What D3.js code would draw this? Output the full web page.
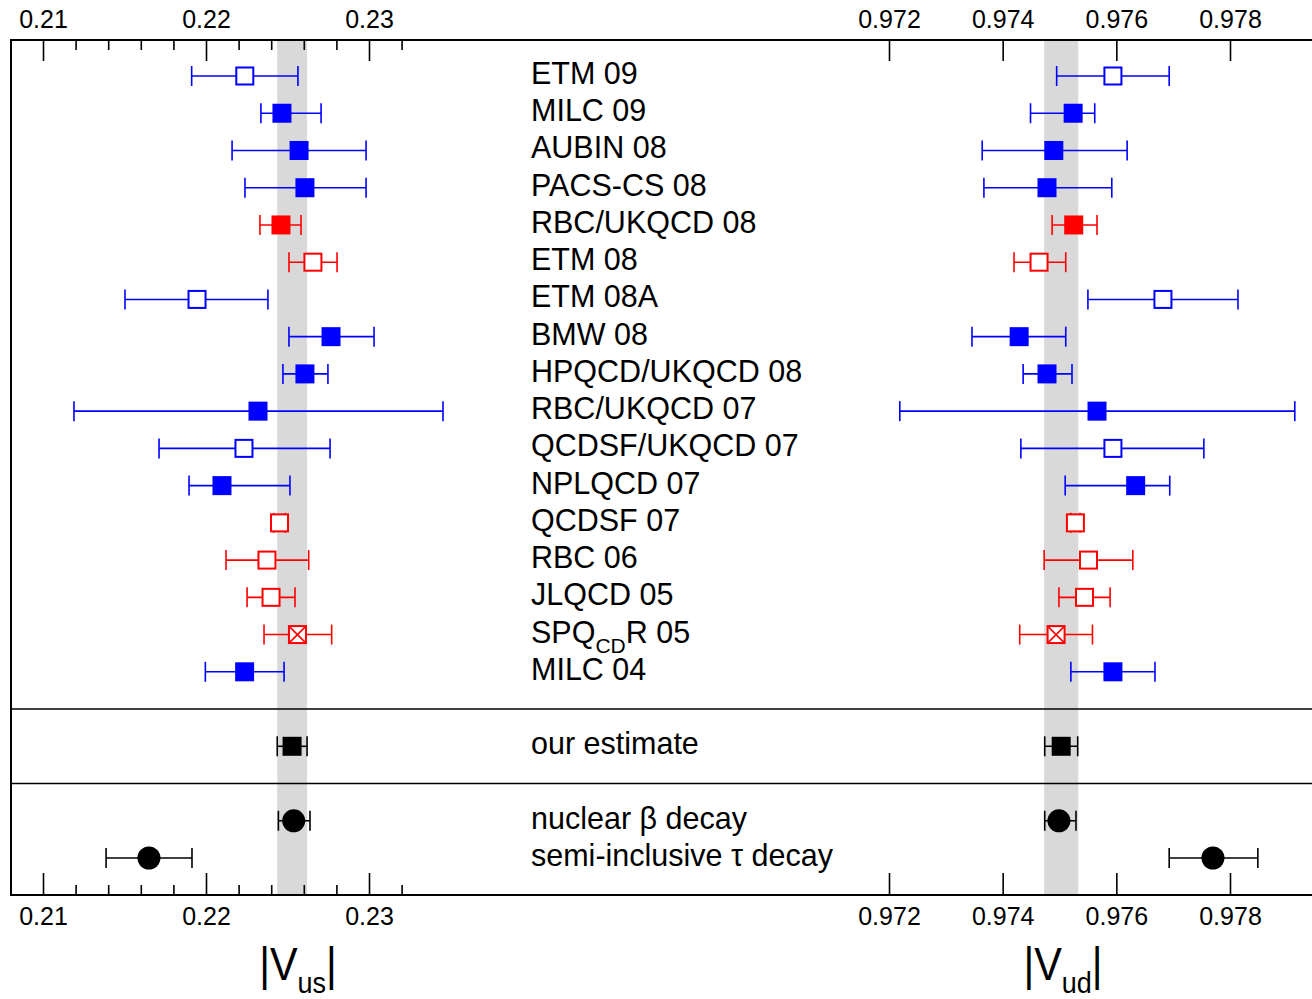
<!DOCTYPE html>
<html>
<head>
<meta charset="utf-8">
<script src="https://cdn.jsdelivr.net/npm/d3@7"></script>
<style>
  html, body { margin: 0; padding: 0; background: #fff; }
  svg { display: block; font-family: "Liberation Sans", Arial, Helvetica, sans-serif; }
</style>
</head>
<body>
<svg id="chart" width="1312" height="999"></svg>
<script>
// lattice results, top to bottom
const latticeLabels = ['ETM 09', 'MILC 09', 'AUBIN 08', 'PACS-CS 08', 'RBC/UKQCD 08', 'ETM 08', 'ETM 08A',
  'BMW 08', 'HPQCD/UKQCD 08', 'RBC/UKQCD 07', 'QCDSF/UKQCD 07', 'NPLQCD 07', 'QCDSF 07', 'RBC 06',
  'JLQCD 05', 'SPQcdR 05', 'MILC 04'];
// which lattice quantity the result comes from
const quantity = ['fK/fpi', 'fK/fpi', 'fK/fpi', 'fK/fpi', 'f+(0)', 'f+(0)', 'fK/fpi', 'fK/fpi', 'fK/fpi',
  'fK/fpi', 'fK/fpi', 'fK/fpi', 'f+(0)', 'f+(0)', 'f+(0)', 'f+(0)', 'fK/fpi'];
const status = ['open', 'filled', 'filled', 'filled', 'filled', 'open', 'open', 'filled', 'filled',
  'filled', 'open', 'filled', 'open', 'open', 'open', 'quenched', 'filled'];

const vusCentral = [0.22238, 0.22466, 0.22571, 0.22607, 0.22460, 0.22656, 0.21945, 0.22767, 0.22607,
  0.22319, 0.22233, 0.22098, 0.22451, 0.22374, 0.22399, 0.22561, 0.22237];
const vusLow = [0.21912, 0.22337, 0.22160, 0.22239, 0.22331, 0.22509, 0.21503, 0.22509, 0.22472,
  0.21190, 0.21712, 0.21896, 0.22415, 0.22123, 0.22252, 0.22356, 0.21996];
const vusHigh = [0.22564, 0.22706, 0.22982, 0.22982, 0.22583, 0.22804, 0.22380, 0.23031, 0.22748,
  0.23454, 0.22761, 0.22515, 0.22487, 0.22630, 0.22546, 0.22771, 0.22479];

const vudCentral = [0.97594, 0.97524, 0.97490, 0.97478, 0.97525, 0.97464, 0.97682, 0.97429, 0.97478,
  0.97566, 0.97594, 0.97634, 0.97528, 0.97551, 0.97544, 0.97494, 0.97594];
const vudLow = [0.97495, 0.97449, 0.97364, 0.97367, 0.97487, 0.97420, 0.97550, 0.97346, 0.97436,
  0.97219, 0.97432, 0.97510, 0.97520, 0.97473, 0.97499, 0.97430, 0.97520];
const vudHigh = [0.97693, 0.97562, 0.97619, 0.97592, 0.97566, 0.97511, 0.97814, 0.97511, 0.97522,
  0.97914, 0.97754, 0.97694, 0.97536, 0.97629, 0.97589, 0.97558, 0.97668];

// estimate and non-lattice determinations
const refLabels = ['our estimate', 'nuclear β decay', 'semi-inclusive τ decay'];
const refRows = [18, 20, 21];
const refMarker = ['square', 'circle', 'circle'];
const refVus = [0.22528, 0.22538, 0.21650];
const refVusLow = [0.22437, 0.22444, 0.21387];
const refVusHigh = [0.22620, 0.22638, 0.21914];
const refVud = [0.97503, 0.97499, 0.97770];
const refVudLow = [0.97474, 0.97474, 0.97693];
const refVudHigh = [0.97532, 0.97529, 0.97849];

const bandVus = [0.22437, 0.22620];
const bandVud = [0.97473, 0.97533];
const separatorRows = [17, 19];

const vusMajor = [0.21, 0.22, 0.23];
const vusMinor = [0.212, 0.214, 0.216, 0.218, 0.222, 0.224, 0.226, 0.228, 0.232];
const vudMajor = [0.972, 0.974, 0.976, 0.978];

const QCOLOR = { 'fK/fpi': '#0000ff', 'f+(0)': '#ff0000' };
const TOP = 40, BOTTOM = 895, LEFT = 11;
const BOX = 19, CAP = 10;

const svg = d3.select('#chart');

const xL = d3.scaleLinear().domain([0.21, 0.23]).range([43, 369]);
const xR = d3.scaleLinear().domain([0.972, 0.978]).range([889, 1230]);
const y = d3.scaleLinear().domain([0, 21]).range([76, 858]);

// grey bands
svg.append('rect')
  .attr('x', xL(bandVus[0])).attr('y', TOP)
  .attr('width', xL(bandVus[1]) - xL(bandVus[0])).attr('height', BOTTOM - TOP)
  .attr('fill', '#d9d9d9');
svg.append('rect')
  .attr('x', xR(bandVud[0])).attr('y', TOP)
  .attr('width', xR(bandVud[1]) - xR(bandVud[0])).attr('height', BOTTOM - TOP)
  .attr('fill', '#d9d9d9');

const rows = latticeLabels.map((label, i) => ({
  label, row: i, color: QCOLOR[quantity[i]], marker: status[i],
  panels: [
    { x: xL, c: vusCentral[i], lo: vusLow[i], hi: vusHigh[i] },
    { x: xR, c: vudCentral[i], lo: vudLow[i], hi: vudHigh[i] }
  ]
})).concat(refLabels.map((label, i) => ({
  label, row: refRows[i], color: '#000', marker: refMarker[i],
  panels: [
    { x: xL, c: refVus[i], lo: refVusLow[i], hi: refVusHigh[i] },
    { x: xR, c: refVud[i], lo: refVudLow[i], hi: refVudHigh[i] }
  ]
})));

rows.forEach(r => {
  const yy = y(r.row);
  r.panels.forEach(p => {
    const g = svg.append('g').attr('stroke', r.color).attr('stroke-width', 1.6);
    g.append('line').attr('x1', p.x(p.lo)).attr('x2', p.x(p.hi)).attr('y1', yy).attr('y2', yy);
    [p.lo, p.hi].forEach(v => {
      g.append('line').attr('x1', p.x(v)).attr('x2', p.x(v)).attr('y1', yy - CAP).attr('y2', yy + CAP);
    });
    const cx = p.x(p.c);
    if (r.marker === 'circle') {
      g.append('circle').attr('cx', cx).attr('cy', yy).attr('r', 11.5)
        .attr('fill', r.color).attr('stroke', 'none');
    } else if (r.marker === 'filled' || r.marker === 'square') {
      g.append('rect').attr('x', cx - BOX / 2).attr('y', yy - BOX / 2)
        .attr('width', BOX).attr('height', BOX).attr('fill', r.color).attr('stroke', 'none');
    } else {
      const s = BOX - 2;
      g.append('rect').attr('x', cx - s / 2).attr('y', yy - s / 2)
        .attr('width', s).attr('height', s).attr('fill', '#fff').attr('stroke-width', 2);
      if (r.marker === 'quenched') {
        g.append('path')
          .attr('d', `M${cx - s / 2},${yy - s / 2}L${cx + s / 2},${yy + s / 2}M${cx + s / 2},${yy - s / 2}L${cx - s / 2},${yy + s / 2}`)
          .attr('stroke-width', 1.6);
      }
    }
  });

  const t = svg.append('text').attr('x', 531).attr('y', yy + 8)
    .attr('font-size', 30.5).attr('fill', '#000');
  if (r.label === 'SPQcdR 05') {
    t.append('tspan').text('SPQ');
    t.append('tspan').attr('font-size', 21).attr('dy', 10).text('CD');
    t.append('tspan').attr('dy', -10).text('R 05');
  } else {
    t.text(r.label);
  }
});

// frame and separators
svg.append('path')
  .attr('d', `M1320,${TOP}H${LEFT}V${BOTTOM}H1320`)
  .attr('fill', 'none').attr('stroke', '#000').attr('stroke-width', 2);
separatorRows.forEach(s => {
  svg.append('line').attr('x1', LEFT).attr('x2', 1320).attr('y1', y(s)).attr('y2', y(s))
    .attr('stroke', '#000').attr('stroke-width', 1.5);
});

// axes
function styleAxis(g) {
  g.select('.domain').remove();
  g.attr('font-family', null).attr('font-size', 25);
  g.selectAll('line').attr('stroke-width', 1.6);
  g.selectAll('text').attr('fill', '#000');
}
[[xL, vusMajor, d3.format('.2f')], [xR, vudMajor, d3.format('.3f')]].forEach(([sc, ticks, fmt]) => {
  svg.append('g').attr('transform', `translate(0,${TOP})`)
    .call(d3.axisTop(sc).tickValues(ticks).tickFormat(fmt).tickSizeInner(-21).tickSizeOuter(0).tickPadding(12))
    .call(styleAxis);
  svg.append('g').attr('transform', `translate(0,${BOTTOM})`)
    .call(d3.axisBottom(sc).tickValues(ticks).tickFormat(fmt).tickSizeInner(-22).tickSizeOuter(0).tickPadding(12))
    .call(styleAxis);
});
svg.append('g').attr('transform', `translate(0,${TOP})`)
  .call(d3.axisTop(xL).tickValues(vusMinor).tickFormat('').tickSizeInner(-10).tickSizeOuter(0))
  .call(styleAxis);
svg.append('g').attr('transform', `translate(0,${BOTTOM})`)
  .call(d3.axisBottom(xL).tickValues(vusMinor).tickFormat('').tickSizeInner(-10).tickSizeOuter(0))
  .call(styleAxis);

// axis titles
[['us', 298], ['ud', 1063]].forEach(([sub, cx]) => {
  const t = svg.append('g').attr('transform', `translate(${cx},980) scale(0.9,1)`)
    .append('text').attr('text-anchor', 'middle').attr('font-size', 46).attr('fill', '#000');
  t.append('tspan').text('|V');
  t.append('tspan').attr('font-size', 30).attr('dy', 13).text(sub);
  t.append('tspan').attr('dy', -13).text('|');
});
</script>
</body>
</html>
